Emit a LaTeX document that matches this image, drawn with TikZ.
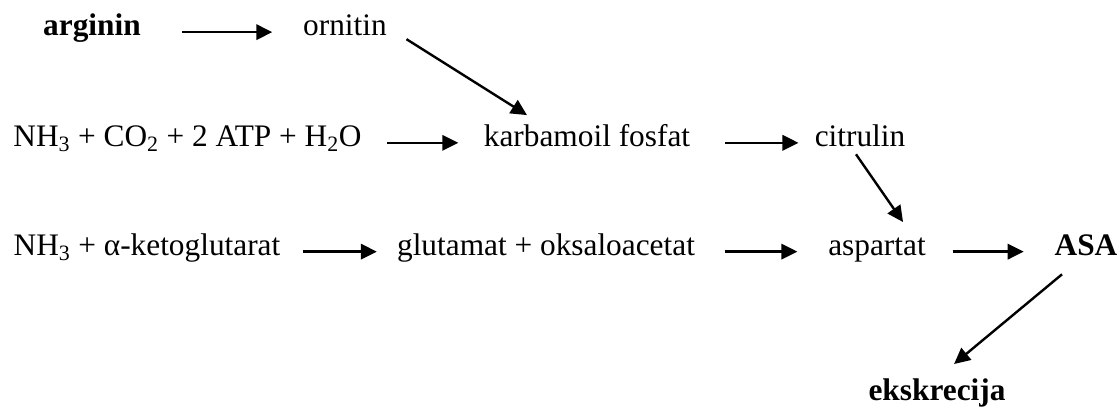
\documentclass[tikz,border=0pt]{standalone}
\usepackage{fontspec}
\setmainfont{Liberation Serif}
\usetikzlibrary{positioning,arrows.meta}

\begin{document}
\begin{tikzpicture}[
  x=0.75pt, y=-0.75pt,
  font=\fontsize{23.5}{28}\selectfont,
  chem/.style={inner xsep=0pt, inner ysep=0pt, text height=0.8em, text depth=0.22em, anchor=base},
  arr/.style={-{Triangle[length=12pt, width=11.5pt]}, line width=1.8pt, shorten <=20pt, shorten >=20pt}
]
\useasboundingbox (0,0) rectangle (1119,410);

% ---------------- top row ----------------
\node[chem] (arg) at (92,36) {\textbf{arginin}};
\node[chem] (orn) at (345,36) {ornitin};

% ---------------- carbamoyl phosphate row ----------------
\node[chem] (nh3a) at (187.5,146.7) {NH\textsubscript{3} + CO\textsubscript{2} + 2 ATP + H\textsubscript{2}O};
\node[chem] (karb) at (587,146.7) {karbamoil fosfat};
\node[chem] (cit) at (860,146.7) {citrulin};

% ---------------- aspartate row ----------------
\node[chem] (nh3b) at (147,255.5) {NH\textsubscript{3} + α-ketoglutarat};
\node[chem] (glu) at (546,255.5) {glutamat + oksaloacetat};
\node[chem] (asp) at (877,255.5) {aspartat};
\node[chem] (asa) at (1086,255.5) {\textbf{ASA}};

\node[chem] (eks) at (937,400) {\textbf{ekskrecija}};

% horizontal steps
\draw[arr, shorten <=31pt, shorten >=23pt] (arg) -- (orn);
\draw[arr, shorten <=19pt, shorten >=19pt] (nh3a) -- (karb);
\draw[arr, shorten <=26pt, shorten >=12pt] (karb) -- (cit);
\draw[arr, shorten <=17pt, shorten >=15pt] (nh3b) -- (glu);
\draw[arr, shorten <=22pt, shorten >=23pt] (glu) -- (asp);
\draw[arr, shorten <=20pt, shorten >=23pt] (asp) -- (asa);

% diagonal steps
\draw[arr, shorten <=0pt, shorten >=0pt] ([xshift=14.6pt]orn.south east) -- ([xshift=-45pt, yshift=15.5pt]karb.north);
\draw[arr, shorten <=0pt, shorten >=0pt] ([xshift=-3pt, yshift=-3.3pt]cit.south) -- ([xshift=19.5pt, yshift=16.9pt]asp.north);
\draw[arr, shorten <=0pt, shorten >=0pt] ([xshift=-18pt, yshift=-11.7pt]asa.south) -- ([xshift=12.8pt, yshift=18.8pt]eks.north);

\end{tikzpicture}
\end{document}
